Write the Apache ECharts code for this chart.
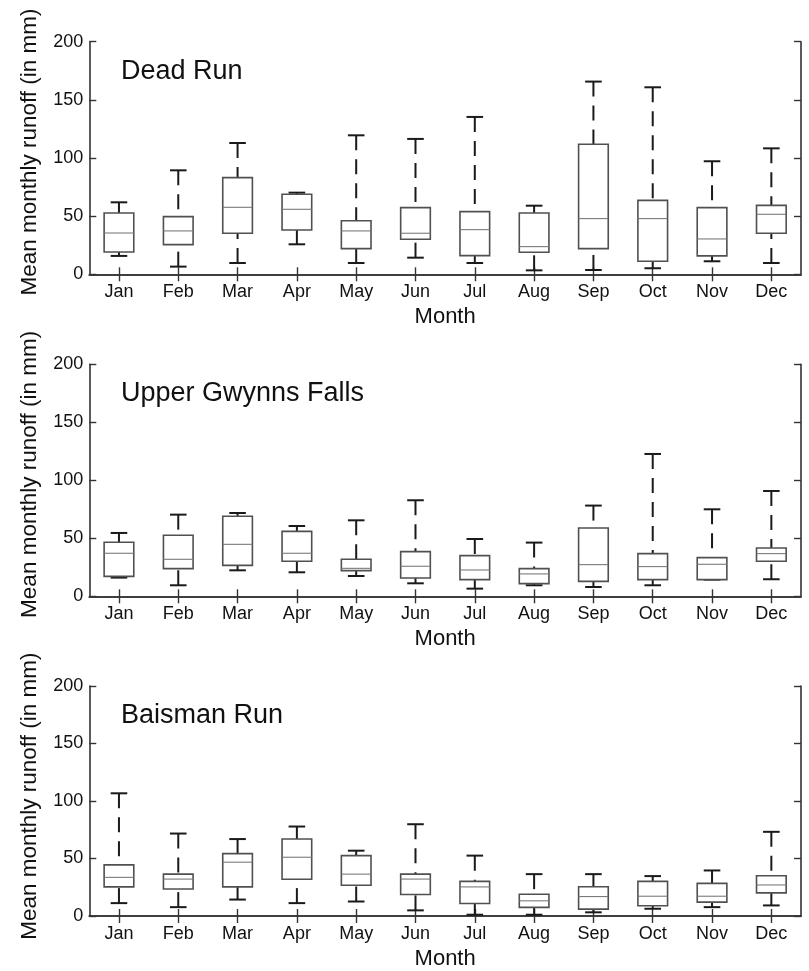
<!DOCTYPE html>
<html>
<head>
<meta charset="utf-8">
<title>Mean monthly runoff</title>
<script src="https://cdn.jsdelivr.net/npm/echarts@6/dist/echarts.min.js"></script>
<style>
  html, body { margin: 0; padding: 0; background: #fff; }
  #chart { width: 809px; height: 971px; }
</style>
</head>
<body>
<div id="chart"></div>
<script>
// Month categories shared by all three panels
const months = ['Jan', 'Feb', 'Mar', 'Apr', 'May', 'Jun', 'Jul', 'Aug', 'Sep', 'Oct', 'Nov', 'Dec'];
const yTicks = [0, 50, 100, 150, 200];

// Dead Run: whisker ends, quartiles and median (mm)
const deadLow  = [15.8, 6.6, 9.7, 25.8, 9.7, 14.3, 9.7, 3.4, 3.7, 5.2, 11.2, 9.7];
const deadQ1   = [19.2, 25.5, 35.3, 38.1, 22.1, 30.1, 16.1, 18.9, 22.1, 11.2, 15.8, 35.3];
const deadMed  = [35.5, 37.3, 57.6, 55.9, 37.3, 35.3, 38.4, 23.8, 47.9, 47.9, 30.4, 51.6];
const deadQ3   = [52.7, 49.6, 83.1, 68.8, 46.1, 57.3, 53.9, 52.7, 111.8, 63.6, 57.3, 59.3];
const deadHigh = [61.9, 89.4, 112.9, 70.2, 119.5, 116.4, 135.3, 59.0, 165.7, 160.8, 97.2, 108.3];

// Upper Gwynns Falls
const ugfLow  = [16.1, 9.5, 22.4, 20.7, 17.5, 11.2, 6.6, 9.5, 8.0, 9.5, 14.4, 14.7];
const ugfQ1   = [17.2, 23.9, 26.7, 30.2, 22.1, 15.8, 14.4, 10.9, 12.9, 14.4, 14.4, 30.2];
const ugfMed  = [37.1, 31.9, 44.8, 37.1, 24.1, 25.9, 22.7, 19.3, 27.3, 25.6, 27.6, 36.8];
const ugfQ3   = [46.6, 52.6, 69.0, 56.0, 31.9, 38.5, 35.1, 23.9, 58.9, 36.8, 33.3, 41.7];
const ugfHigh = [54.6, 70.4, 71.8, 60.6, 65.5, 82.8, 49.4, 46.3, 78.2, 122.7, 75.0, 90.8];

// Baisman Run
const bsmLow  = [11.2, 7.7, 14.3, 11.2, 12.6, 4.9, 1.1, 1.1, 3.2, 6.3, 7.7, 9.2];
const bsmQ1   = [25.3, 23.5, 25.3, 31.9, 26.7, 18.7, 10.9, 7.5, 6.0, 8.9, 12.1, 20.1];
const bsmMed  = [33.6, 32.1, 46.8, 51.1, 36.4, 32.1, 25.3, 13.2, 16.9, 17.2, 17.2, 27.0];
const bsmQ3   = [44.5, 36.4, 54.2, 66.9, 52.5, 36.4, 30.1, 18.9, 25.5, 30.1, 28.4, 35.0];
const bsmHigh = [106.7, 71.7, 66.9, 77.8, 56.8, 79.8, 52.5, 36.4, 36.4, 34.7, 39.6, 73.2];

const panels = [
  { title: 'Dead Run',           low: deadLow, q1: deadQ1, med: deadMed, q3: deadQ3, high: deadHigh, top: 41.7,  height: 232.6 },
  { title: 'Upper Gwynns Falls', low: ugfLow,  q1: ugfQ1,  med: ugfMed,  q3: ugfQ3,  high: ugfHigh,  top: 364.3, height: 232.0 },
  { title: 'Baisman Run',        low: bsmLow,  q1: bsmQ1,  med: bsmMed,  q3: bsmQ3,  high: bsmHigh,  top: 686.0, height: 232.3 }
];

const FONT = '"Liberation Sans", Arial, Helvetica, sans-serif';
const TEXT = '#111';
const GRID_LEFT = 89.3;
const GRID_WIDTH = 711.7;
const FRAME = { show: true, lineStyle: { color: '#333', width: 1.6 } };
const TICK_IN = { show: true, inside: true, length: 7, lineStyle: { color: '#333', width: 1.4 } };

// MATLAB-style box: dashed whiskers with short caps, outlined box, thin median
function renderBox(params, api) {
  const i = api.value(0);
  const lo = api.coord([i, api.value(1)]);
  const q1 = api.coord([i, api.value(2)]);
  const md = api.coord([i, api.value(3)]);
  const q3 = api.coord([i, api.value(4)]);
  const hi = api.coord([i, api.value(5)]);
  const band = api.size([1, 0])[0];
  const bw = band * 0.5;
  const cw = band * 0.28;
  const cx = lo[0];
  const whisker = { stroke: '#1a1a1a', lineWidth: 2, lineDash: [15, 9] };
  const cap = { stroke: '#1a1a1a', lineWidth: 2 };
  return {
    type: 'group',
    children: [
      { type: 'line', shape: { x1: cx, y1: hi[1], x2: cx, y2: q3[1] }, style: whisker },
      { type: 'line', shape: { x1: cx, y1: lo[1], x2: cx, y2: q1[1] }, style: whisker },
      { type: 'line', shape: { x1: cx - cw / 2, y1: hi[1], x2: cx + cw / 2, y2: hi[1] }, style: cap },
      { type: 'line', shape: { x1: cx - cw / 2, y1: lo[1], x2: cx + cw / 2, y2: lo[1] }, style: cap },
      { type: 'rect', shape: { x: cx - bw / 2, y: q3[1], width: bw, height: q1[1] - q3[1] },
        style: { fill: '#fff', stroke: '#505050', lineWidth: 1.6 } },
      { type: 'line', shape: { x1: cx - bw / 2, y1: md[1], x2: cx + bw / 2, y2: md[1] },
        style: { stroke: '#7a7a7a', lineWidth: 1.1 } }
    ]
  };
}

const grid = [], xAxis = [], yAxis = [], series = [], graphic = [];

panels.forEach((p, k) => {
  grid.push({ left: GRID_LEFT, width: GRID_WIDTH, top: p.top, height: p.height });

  // bottom month axis
  xAxis.push({
    type: 'category', gridIndex: k, data: months, position: 'bottom',
    boundaryGap: true,
    axisLine: FRAME,
    axisTick: Object.assign({ alignWithLabel: true }, TICK_IN),
    axisLabel: { color: TEXT, fontSize: 18, fontFamily: FONT, margin: 9 },
    name: 'Month', nameLocation: 'middle', nameGap: 32,
    nameTextStyle: { color: TEXT, fontSize: 22, fontFamily: FONT },
    splitLine: { show: false }
  });
  // top frame with mirrored ticks
  xAxis.push({
    type: 'category', gridIndex: k, data: months, position: 'top',
    boundaryGap: true,
    axisLine: FRAME,
    axisTick: Object.assign({ alignWithLabel: true }, TICK_IN),
    axisLabel: { show: false },
    splitLine: { show: false }
  });
  // left value axis
  yAxis.push({
    type: 'value', gridIndex: k, position: 'left',
    min: yTicks[0], max: yTicks[yTicks.length - 1], interval: yTicks[1] - yTicks[0],
    axisLine: FRAME,
    axisTick: TICK_IN,
    axisLabel: { color: TEXT, fontSize: 18, fontFamily: FONT, margin: 6 },
    splitLine: { show: false }
  });
  // right frame with mirrored ticks
  yAxis.push({
    type: 'value', gridIndex: k, position: 'right',
    min: yTicks[0], max: yTicks[yTicks.length - 1], interval: yTicks[1] - yTicks[0],
    axisLine: FRAME,
    axisTick: TICK_IN,
    axisLabel: { show: false },
    splitLine: { show: false }
  });

  const rows = months.map((m, i) => [i, p.low[i], p.q1[i], p.med[i], p.q3[i], p.high[i]]);
  series.push({
    type: 'custom', name: p.title,
    xAxisIndex: 2 * k, yAxisIndex: 2 * k,
    renderItem: renderBox,
    encode: { x: 0, y: [1, 2, 3, 4, 5] },
    data: rows,
    clip: false,
    silent: true
  });

  // station name inside the panel
  graphic.push({
    type: 'text', left: 121, top: p.top + 16,
    style: { text: p.title, fill: TEXT, font: '27px ' + FONT }
  });
  // rotated y-axis title
  graphic.push({
    type: 'text', x: 30, y: p.top + p.height / 2 - 6, rotation: Math.PI / 2,
    style: { text: 'Mean monthly runoff (in mm)', fill: TEXT, font: '22.5px ' + FONT,
             textAlign: 'center', textVerticalAlign: 'middle' }
  });
});

const chart = echarts.init(document.getElementById('chart'), null, { renderer: 'canvas' });
chart.setOption({
  animation: false,
  backgroundColor: '#fff',
  grid, xAxis, yAxis, series, graphic
});
</script>
</body>
</html>
